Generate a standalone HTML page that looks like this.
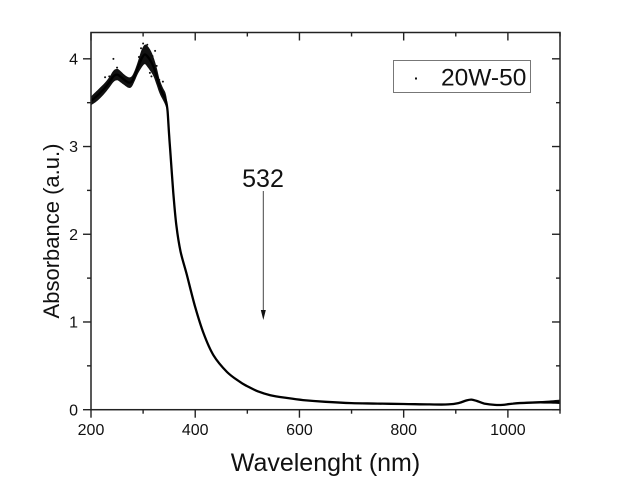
<!DOCTYPE html>
<html>
<head>
<meta charset="utf-8">
<title>Absorbance chart</title>
<style>
html,body{margin:0;padding:0;background:#fff;}
svg{display:block;font-family:"Liberation Sans",Arial,sans-serif;}
</style>
</head>
<body>
<svg id="chart" xmlns="http://www.w3.org/2000/svg" width="618" height="485" viewBox="0 0 618 485">
  <rect x="0" y="0" width="618" height="485" fill="#fff"/>
  <g id="series"></g>
  <g id="axes"></g>
  <text x="325.5" y="471" font-size="25" text-anchor="middle" fill="#111">Wavelenght (nm)</text>
  <text transform="translate(59 231) rotate(-90)" font-size="22" text-anchor="middle" fill="#111">Absorbance (a.u.)</text>
  <text x="263" y="187" font-size="25" text-anchor="middle" fill="#111">532</text>
  <line x1="263.3" y1="191" x2="263.3" y2="312" stroke="#444" stroke-width="1"/>
  <polygon points="260.8,310 265.8,310 263.3,320" fill="#111"/>
  <g>
    <rect x="393.5" y="60.5" width="137" height="32" fill="#fff" stroke="#777" stroke-width="1"/>
    <rect x="415" y="77.5" width="2" height="2" fill="#111"/>
    <text x="441" y="85.5" font-size="24.5" fill="#111">20W-50</text>
  </g>
</svg>
<script>
const wavelengths = [200,212,224,235,243,250,256,264,272,278,284,290,297,303,308,314,320,326,332,338,344,347,350,352,358,364,372,384,400,416,435,461,485,499,520,544,575,607,650,700,750,800,850,885,905,920,930,940,955,975,990,1010,1040,1070,1100];
const absorbance = [3.52,3.58,3.65,3.73,3.80,3.82,3.80,3.76,3.73,3.74,3.81,3.90,4.00,4.05,4.03,3.98,3.91,3.80,3.68,3.60,3.52,3.40,3.12,2.96,2.47,2.09,1.80,1.535,1.17,0.87,0.62,0.43,0.32,0.27,0.21,0.165,0.135,0.11,0.09,0.075,0.07,0.065,0.06,0.06,0.075,0.105,0.115,0.10,0.07,0.055,0.055,0.07,0.08,0.085,0.09];
const noiseSpread = [0.05,0.06,0.06,0.06,0.065,0.065,0.065,0.06,0.06,0.06,0.06,0.07,0.10,0.11,0.12,0.12,0.11,0.10,0.08,0.07,0.07,0.04,0.01,0,0,0,0,0,0,0,0,0,0,0,0,0,0,0,0,0,0,0,0,0,0,0,0,0,0,0,0,0.005,0.01,0.015,0.025];
const outlierWavelengths = [243,300,308,303,323,250,227,313,331,296,316,235,326,338,292,318];
const outlierAbsorbance = [4.00,4.175,4.16,4.14,4.09,3.90,3.79,3.84,3.76,4.12,3.80,3.80,3.92,3.74,4.02,4.03];
const xTicks = [200,400,600,800,1000];
const xMinorTicks = [300,500,700,900,1100];
const yTicks = [0,1,2,3,4];
const yMinorTicks = [0.5,1.5,2.5,3.5];

const NS = 'http://www.w3.org/2000/svg';
const plot = {left:91, right:560, top:32.5, bottom:409.7, xMin:200, xMax:1100, yMin:0, yMax:4.3};
function xScale(v){ return plot.left + (v - plot.xMin) * (plot.right - plot.left) / (plot.xMax - plot.xMin); }
function yScale(v){ return plot.bottom - (v - plot.yMin) * (plot.bottom - plot.top) / (plot.yMax - plot.yMin); }
function make(tag, attrs, parent){
  const el = document.createElementNS(NS, tag);
  for (const k in attrs) el.setAttribute(k, attrs[k]);
  parent.appendChild(el);
  return el;
}
function smoothPath(pts, start){
  let s = (start ? 'M' : 'L') + pts[0][0].toFixed(1) + ' ' + pts[0][1].toFixed(1);
  for (let i = 0; i < pts.length - 1; i++){
    const p0 = pts[Math.max(i - 1, 0)], p1 = pts[i], p2 = pts[i + 1], p3 = pts[Math.min(i + 2, pts.length - 1)];
    const c1x = p1[0] + (p2[0] - p0[0]) / 6, c1y = p1[1] + (p2[1] - p0[1]) / 6;
    const c2x = p2[0] - (p3[0] - p1[0]) / 6, c2y = p2[1] - (p3[1] - p1[1]) / 6;
    s += ' C' + c1x.toFixed(1) + ' ' + c1y.toFixed(1) + ' ' + c2x.toFixed(1) + ' ' + c2y.toFixed(1) + ' ' + p2[0].toFixed(1) + ' ' + p2[1].toFixed(1);
  }
  return s;
}
const seriesG = document.getElementById('series');
const axesG = document.getElementById('axes');

// noise band
const upperPts = wavelengths.map(function(w, i){ return [xScale(w), yScale(absorbance[i] + noiseSpread[i])]; });
const lowerPts = wavelengths.map(function(w, i){ return [xScale(w), yScale(absorbance[i] - noiseSpread[i])]; }).reverse();
const band = make('path', {d: smoothPath(upperPts, true) + ' ' + smoothPath(lowerPts, false) + ' Z', fill:'#111'}, seriesG);



// central curve
const curvePts = wavelengths.map(function(w, i){ return [xScale(w), yScale(absorbance[i])]; });
const curve = make('path', {d: smoothPath(curvePts, true), fill:'none', stroke:'#000', 'stroke-width':'2.3', 'stroke-linejoin':'round'}, seriesG);



// outlier points
outlierWavelengths.forEach(function(w, i){
  const p = make('circle', {cx: xScale(w), cy: yScale(outlierAbsorbance[i]), r: 1, fill:'#111'}, seriesG);
  
  
});

// frame
const frame = make('rect', {x: plot.left, y: plot.top, width: plot.right - plot.left, height: plot.bottom - plot.top, fill:'none', stroke:'#222', 'stroke-width':'1.5'}, axesG);



function tick(x1, y1, x2, y2){
  const t = make('line', {x1:x1, y1:y1, x2:x2, y2:y2, stroke:'#222', 'stroke-width':'1.4'}, axesG);
  
  
}
xTicks.forEach(function(v){
  const x = xScale(v);
  tick(x, plot.bottom, x, plot.bottom + 8);
  tick(x, plot.top, x, plot.top + 8);
  const label = make('text', {x:x, y:435, 'font-size':'16', 'text-anchor':'middle', fill:'#111'}, axesG);
  
  
  label.textContent = v;
});
xMinorTicks.forEach(function(v){
  const x = xScale(v);
  tick(x, plot.bottom, x, plot.bottom + 4);
  tick(x, plot.top, x, plot.top + 4);
});
yTicks.forEach(function(v){
  const y = yScale(v);
  tick(plot.left - 8, y, plot.left, y);
  tick(plot.right - 8, y, plot.right, y);
  const label = make('text', {x:78, y:y + 5.7, 'font-size':'16', 'text-anchor':'end', fill:'#111'}, axesG);
  
  
  label.textContent = v;
});
yMinorTicks.forEach(function(v){
  const y = yScale(v);
  tick(plot.left - 4, y, plot.left, y);
  tick(plot.right - 4, y, plot.right, y);
});
</script>
</body>
</html>
